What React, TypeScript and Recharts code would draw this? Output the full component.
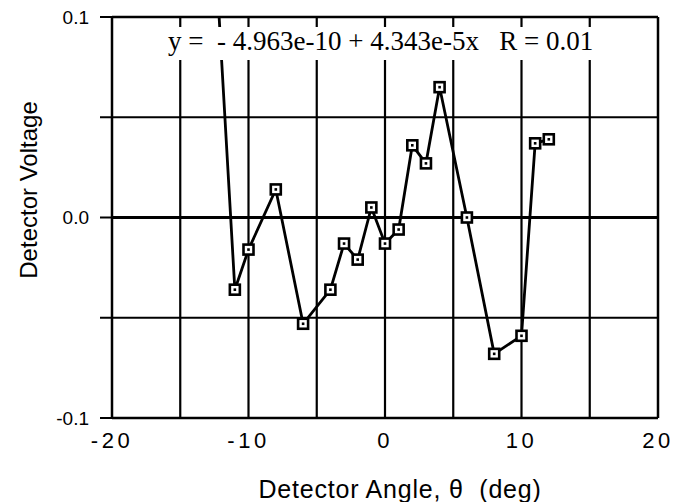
import { LineChart, Line, XAxis, YAxis, ReferenceLine } from "recharts";

// detector angle (deg) and voltage; first point sits above the frame
const angles = [-13, -11, -10, -8, -6, -4, -3, -2, -1, 0, 1, 2, 3, 4, 6, 8, 10, 11, 12];
const voltages = [
  0.2, -0.036, -0.016, 0.014, -0.053, -0.036, -0.013, -0.021, 0.005, -0.013, -0.006,
  0.036, 0.027, 0.065, 0.0, -0.068, -0.059, 0.037, 0.039,
];

const xTicks = [-20, -10, 0, 10, 20];
const yTicks = [-0.1, -0.05, 0, 0.05, 0.1];
const yTickLabels: Record<string, string> = { "0.1": "0.1", "0": "0.0", "-0.1": "-0.1" };
const gridX = [-15, -10, -5, 0, 5, 10, 15];
const gridY = [-0.05, 0, 0.05];

const fitText = "y =  - 4.963e-10 + 4.343e-5x   R = 0.01";

const data = angles.map((a, i) => ({ angle: a, voltage: voltages[i] }));

const sans = "'Liberation Sans', Arial, Helvetica, sans-serif";

function SquareDot(props: any) {
  const { cx, cy, index } = props;
  if (cx == null || cy == null) return null;
  return (
    <g key={`dot-${index}`}>
      <rect x={cx - 5} y={cy - 5} width={10} height={10} fill="#fff" stroke="#000" strokeWidth={2.6} />
      <rect x={cx - 1.3} y={cy - 1.3} width={2.6} height={2.6} fill="#000" />
    </g>
  );
}

export default function App() {
  return (
    <div
      style={{
        position: "absolute",
        left: 0,
        top: 0,
        width: 673,
        height: 502,
        background: "#fff",
        fontFamily: sans,
      }}
    >
      <LineChart
        width={673}
        height={502}
        data={data}
        margin={{ top: 17, right: 15, left: 0, bottom: 0 }}
      >
        <XAxis
          dataKey="angle"
          type="number"
          domain={[-20, 20]}
          ticks={xTicks}
          allowDataOverflow
          height={84}
          tickLine={false}
          tickSize={0}
          tickMargin={14}
          axisLine={{ stroke: "#000", strokeWidth: 2.5 }}
          tick={{ fill: "#000", fontSize: 22, letterSpacing: 3.5, fontFamily: sans }}
          label={() => (
            <text
              x={400}
              y={498}
              textAnchor="middle"
              fill="#000"
              fontSize={25}
              letterSpacing={0.8}
              fontFamily={sans}
              style={{ whiteSpace: "pre" }}
            >
              {"Detector Angle, θ  (deg)"}
            </text>
          )}
        />
        <YAxis
          type="number"
          domain={[-0.1, 0.1]}
          ticks={yTicks}
          allowDataOverflow
          width={112}
          tickSize={12}
          tickMargin={11}
          tickLine={{ stroke: "#000", strokeWidth: 2 }}
          axisLine={{ stroke: "#000", strokeWidth: 2.5 }}
          tick={{ fill: "#000", fontSize: 19, fontFamily: sans }}
          tickFormatter={(v: number) => yTickLabels[String(v)] ?? ""}
          label={() => (
            <text
              x={37}
              y={190}
              transform="rotate(-90 37 190)"
              textAnchor="middle"
              fill="#000"
              fontSize={24}
              fontFamily={sans}
            >
              Detector Voltage
            </text>
          )}
        />
        {gridX.map((x) => (
          <ReferenceLine key={`gx${x}`} x={x} stroke="#000" strokeWidth={2.2} />
        ))}
        {gridY.map((y) => (
          <ReferenceLine key={`gy${y}`} y={y} stroke="#000" strokeWidth={y === 0 ? 2.8 : 2.2} />
        ))}
        <ReferenceLine y={0.1} stroke="#000" strokeWidth={2.5} />
        <ReferenceLine x={20} stroke="#000" strokeWidth={2.5} />
        <Line
          type="linear"
          dataKey="voltage"
          stroke="#000"
          strokeWidth={2.8}
          dot={SquareDot}
          activeDot={false}
          isAnimationActive={false}
        />
      </LineChart>
      <div
        style={{
          position: "absolute",
          left: 160,
          top: 27,
          width: 445,
          height: 33,
          background: "#fff",
          fontFamily: "'Liberation Serif', 'Times New Roman', Times, serif",
          fontSize: 27,
          lineHeight: "26px",
          paddingTop: 1,
          boxSizing: "border-box",
          whiteSpace: "pre",
          color: "#000",
        }}
      >
        <span style={{ position: "absolute", left: 8 }}>{fitText}</span>
      </div>
    </div>
  );
}
